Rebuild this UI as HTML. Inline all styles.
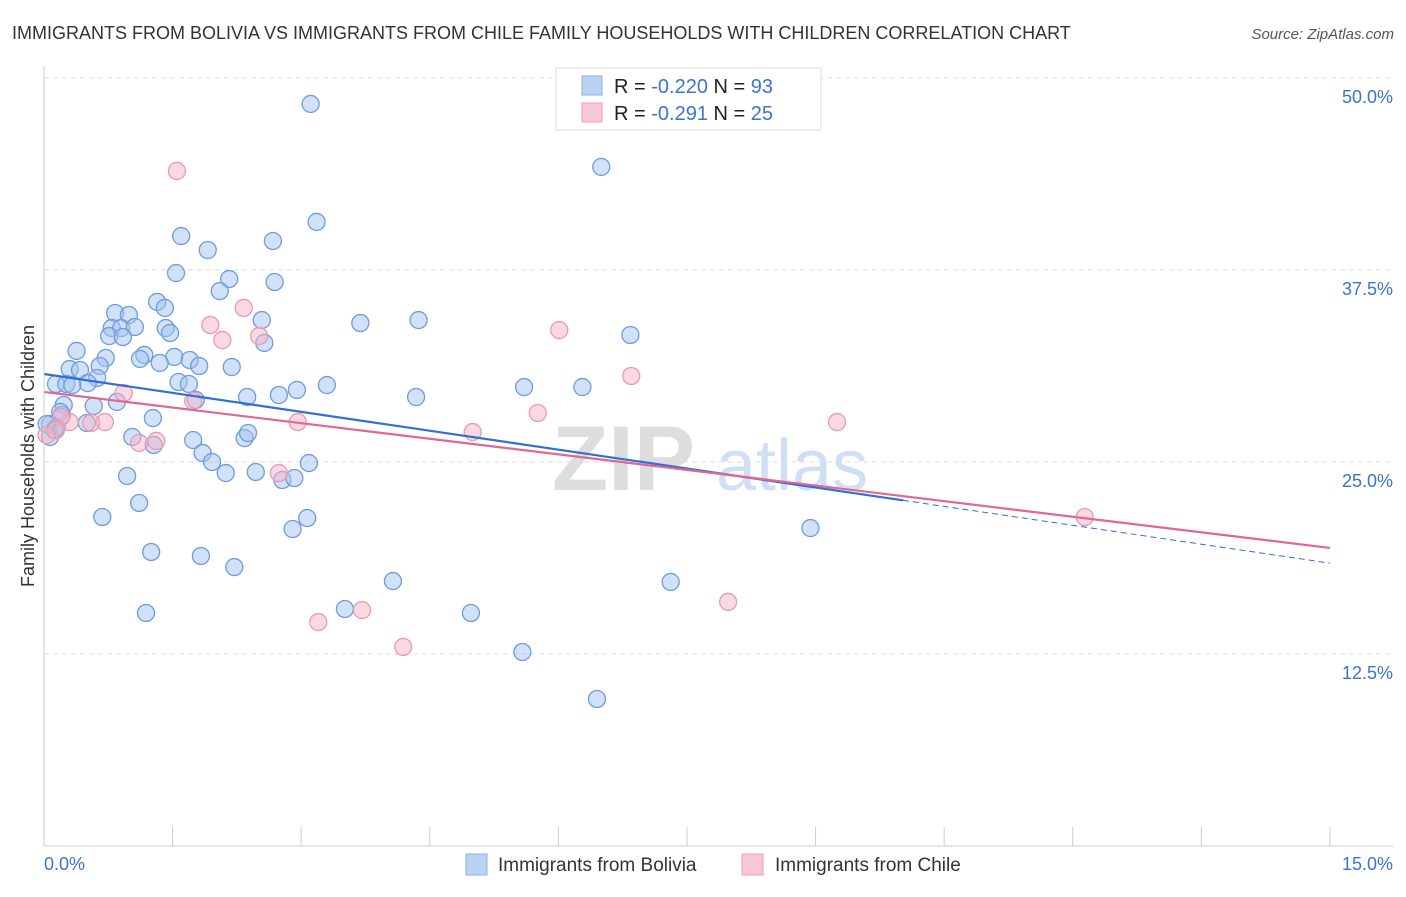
<!DOCTYPE html>
<html><head><meta charset="utf-8"><style>
body{margin:0;background:#fff;font-family:"Liberation Sans",sans-serif}
svg text{font-family:"Liberation Sans",sans-serif}
</style></head><body>
<svg id="chart" width="1406" height="892" xmlns="http://www.w3.org/2000/svg">
<text x="12" y="39" font-size="18" fill="#333">IMMIGRANTS FROM BOLIVIA VS IMMIGRANTS FROM CHILE FAMILY HOUSEHOLDS WITH CHILDREN CORRELATION CHART</text>
<text x="1394" y="39" font-size="15" fill="#555" font-style="italic" text-anchor="end">Source: ZipAtlas.com</text>
<g id="grid"></g>
<g><text x="552" y="490" font-size="92" fill="#ddd" font-weight="bold" font-family="Liberation Serif">ZIP</text><text x="716" y="490" font-size="72" fill="#cfe0f5">atlas</text></g>
<g id="marks"></g>
<g id="axes"></g>
<text transform="translate(34,456) rotate(-90)" font-size="18" fill="#333" text-anchor="middle">Family Households with Children</text>
<g>
<rect x="556" y="68" width="265" height="62" fill="#fff" stroke="#ddd"/>
<rect x="582" y="76" width="20" height="19" fill="#b9d3f5" stroke="#8ab2e8"/>
<text x="614" y="93" font-size="20" fill="#222">R = <tspan fill="#3a74d0">-0.220</tspan>   N = <tspan fill="#3a74d0">93</tspan></text>
<rect x="582" y="103" width="20" height="19" fill="#f9c6d6" stroke="#eaa0b8"/>
<text x="614" y="120" font-size="20" fill="#222">R =  <tspan fill="#3a74d0">-0.291</tspan>   N = <tspan fill="#3a74d0">25</tspan></text>
</g>
<g>
<rect x="466" y="854" width="21" height="21" fill="#b9d3f5" stroke="#8ab2e8"/>
<text x="498" y="871" font-size="19" fill="#333">Immigrants from Bolivia</text>
<rect x="742" y="854" width="21" height="21" fill="#f9c6d6" stroke="#eaa0b8"/>
<text x="775" y="871" font-size="19" fill="#333">Immigrants from Chile</text>
</g>
</svg>
<script>
const yTicks=[12.5,25,37.5,50];
const yTickLabels=["12.5%","25.0%","37.5%","50.0%"];
const xTickCount=[0,1.5,3,4.5,6,7.5,9,10.5,12,13.5,15];
const xEndLabels=["0.0%","15.0%"];
const boliviaX=[3.11,6.50,3.18,1.60,2.67,1.91,1.54,2.16,2.69,2.05,1.32,1.41,0.83,0.99,2.54,3.69,4.37,0.79,0.90,1.06,1.42,1.47,0.76,0.92,6.84,2.57,0.38,1.17,0.72,1.52,1.12,1.70,1.35,1.81,0.65,2.19,0.30,0.42,0.62,0.14,0.26,0.51,0.33,1.57,1.69,3.30,5.60,6.28,2.95,2.37,2.74,4.34,0.85,1.77,0.58,0.23,0.21,1.27,0.50,0.07,0.15,1.03,1.74,1.28,2.34,2.38,1.85,1.96,3.09,0.97,2.12,2.47,2.78,2.92,1.11,0.68,3.07,2.90,8.94,1.25,1.83,2.22,4.07,7.31,3.51,1.19,4.98,5.58,6.45,0.07,0.12,0.03,0.19];
const boliviaY=[48.31,44.21,40.63,39.71,39.39,38.80,37.30,36.91,36.72,36.13,35.42,35.03,34.70,34.57,34.24,34.05,34.24,33.72,33.72,33.79,33.72,33.40,33.20,33.14,33.27,32.75,32.23,31.97,31.77,31.84,31.71,31.64,31.45,31.25,31.25,31.18,31.05,30.99,30.47,30.08,30.08,30.14,30.01,30.21,30.08,30.01,29.88,29.88,29.69,29.23,29.36,29.23,28.91,29.04,28.65,28.71,28.06,27.86,27.54,27.47,27.28,26.63,26.43,26.11,26.56,26.89,25.59,25.00,24.93,24.09,24.28,24.35,23.83,23.96,22.33,21.42,21.35,20.64,20.70,19.14,18.88,18.16,17.25,17.19,15.43,15.17,15.17,12.63,9.57,26.63,27.08,27.47,28.26];
const chileX=[1.55,2.33,1.94,2.08,2.51,6.01,6.85,0.93,1.74,5.76,9.25,2.96,0.71,0.55,0.30,0.20,0.14,0.03,5.00,1.11,1.31,2.74,12.14,7.98,3.71,3.20,4.19];
const chileY=[43.95,35.03,33.92,32.94,33.20,33.59,30.60,29.49,28.97,28.19,27.60,27.60,27.60,27.54,27.60,27.93,27.08,26.76,26.95,26.24,26.37,24.28,21.42,15.89,15.36,14.58,12.96];
const boliviaTrend=[30.73,-0.821];
const boliviaSolidEnd=10.02;
const chileTrend=[29.56,-0.677];
const NS="http://www.w3.org/2000/svg";
const X0=44,XS=85.73,Y0=846,YS=15.36;
const sx=v=>X0+v*XS, sy=v=>Y0-v*YS;
function mk(tag,attrs,parent){const e=document.createElementNS(NS,tag);for(const k in attrs)e.setAttribute(k,attrs[k]);parent.appendChild(e);return e;}
const grid=document.getElementById('grid'),axes=document.getElementById('axes'),marks=document.getElementById('marks');
yTicks.forEach((t,i)=>{
 const l=mk('line',{x1:44,x2:1393,y1:sy(t),y2:sy(t),stroke:'#ddd','stroke-dasharray':'5,4'},grid);
 
 
 const tx=mk('text',{x:1393,y:sy(t)+25,'font-size':18,fill:'#3a74d0','text-anchor':'end'},axes);
 tx.textContent=yTickLabels[i];
 
 
});
const ya=mk('line',{x1:44,x2:44,y1:66,y2:846,stroke:'#ccc'},axes);


const xa=mk('line',{x1:44,x2:1393,y1:846,y2:846,stroke:'#ccc'},axes);


xTickCount.forEach(t=>{
 const l=mk('line',{x1:sx(t),x2:sx(t),y1:827,y2:846,stroke:'#ccc'},axes);
 
 
});
[[0,'start',44],[15,'end',1393]].forEach((d,i)=>{
 const tx=mk('text',{x:d[2],y:870,'font-size':18,fill:'#3a74d0','text-anchor':d[1]},axes);
 tx.textContent=xEndLabels[i];
 
 
});
function pts(xs,ys,fill,stroke,name){xs.forEach((x,i)=>{
 const c=mk('circle',{cx:sx(x),cy:sy(ys[i]),r:8.5,fill:fill,stroke:stroke,'stroke-width':1.3},marks);
 
 
});}
pts(boliviaX,boliviaY,'rgba(164,196,240,0.5)','#6f9be0','bolivia-point');
pts(chileX,chileY,'rgba(248,180,200,0.5)','#e89ab0','chile-point');
const f=(c,x)=>c[0]+c[1]*x;
const bl=mk('line',{x1:sx(0),y1:sy(f(boliviaTrend,0)),x2:sx(boliviaSolidEnd),y2:sy(f(boliviaTrend,boliviaSolidEnd)),stroke:'#2f6fd6','stroke-width':2.2},marks);


const bd=mk('line',{x1:sx(boliviaSolidEnd),y1:sy(f(boliviaTrend,boliviaSolidEnd)),x2:sx(15),y2:sy(f(boliviaTrend,15)),stroke:'#2f6fd6','stroke-width':1,'stroke-dasharray':'6,4'},marks);


const cl=mk('line',{x1:sx(0),y1:sy(f(chileTrend,0)),x2:sx(15),y2:sy(f(chileTrend,15)),stroke:'#e26690','stroke-width':2.2},marks);


</script>
</body></html>
